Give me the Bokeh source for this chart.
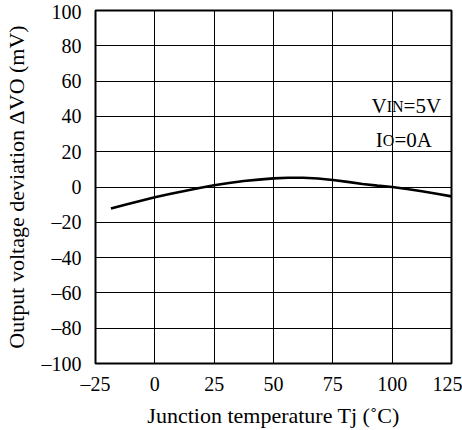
from bokeh.plotting import figure
from bokeh.models import Range1d, Label, FixedTicker, ColumnDataSource
from bokeh.embed import file_html
from bokeh.resources import INLINE

# ---- data ----
temp_c = [-18.5, -12.5, -6.25, 0, 6.25, 12.5, 18.75, 25, 31.25, 37.5, 43.75, 50,
          56.25, 62.5, 68.75, 75, 81.25, 87.5, 93.75, 100, 106.25, 112.5, 118.75, 125]
dv_mv = [-12.2, -10.0, -7.9, -5.8, -4.0, -2.3, -0.6, 1.0, 2.3, 3.4, 4.2, 4.9,
         5.2, 5.2, 4.8, 4.0, 2.9, 1.7, 0.8, 0.0, -1.1, -2.4, -3.8, -5.3]

x_ticks = [-25, 0, 25, 50, 75, 100, 125]
x_tick_labels = ["\u201325", "0", "25", "50", "75", "100", "125"]
y_ticks = [-100, -80, -60, -40, -20, 0, 20, 40, 60, 80, 100]
y_tick_labels = ["\u2013100", "\u201380", "\u201360", "\u201340", "\u201320", "0",
                 "20", "40", "60", "80", "100"]

x_label = "Junction temperature Tj (\u02daC)"
y_label = "Output voltage deviation \u0394VO (mV)"

FONT = "Liberation Serif"

p = figure(width=462, height=430, output_backend="svg", toolbar_location=None,
           x_range=Range1d(-25, 125), y_range=Range1d(-100, 100),
           min_border_left=94, min_border_right=11, min_border_top=10,
           min_border_bottom=66)

src = ColumnDataSource(data=dict(t=temp_c, v=dv_mv))
p.line("t", "v", source=src, line_color="black", line_width=2.6)

p.xaxis.ticker = FixedTicker(ticks=x_ticks)
p.yaxis.ticker = FixedTicker(ticks=y_ticks)
p.xaxis.major_label_overrides = dict(zip(x_ticks, x_tick_labels))
p.yaxis.major_label_overrides = dict(zip(y_ticks, y_tick_labels))
p.xaxis.minor_tick_line_color = None
p.yaxis.minor_tick_line_color = None

for ax in (p.xaxis[0], p.yaxis[0]):
    ax.axis_line_color = None
    ax.major_tick_out = 0
    ax.major_tick_in = 0
    ax.major_label_text_font = FONT
    ax.major_label_text_font_size = "20px"
    ax.major_label_text_color = "black"
    ax.axis_label_text_font = FONT
    ax.axis_label_text_font_size = "22px"
    ax.axis_label_text_font_style = "normal"
    ax.axis_label_text_color = "black"

p.xaxis.axis_label = x_label
p.yaxis.axis_label = y_label
p.xaxis.major_label_standoff = 9
p.xaxis.axis_label_standoff = 5
p.yaxis.major_label_standoff = 14
p.yaxis.axis_label_standoff = 10

p.xgrid.grid_line_color = "black"
p.ygrid.grid_line_color = "black"
p.xgrid.grid_line_width = 1
p.ygrid.grid_line_width = 1

p.outline_line_color = "black"
p.outline_line_width = 2
p.outline_line_alpha = 1

# ---- condition annotations (V_IN = 5V, I_O = 0A) ----
def piece(x, y, text, size, xoff):
    p.add_layout(Label(x=x, y=y, text=text, x_offset=xoff, text_font=FONT,
                       text_font_size=size, text_color="black",
                       text_baseline="alphabetic", text_align="left"))

piece(91.3, 45.8, "V", "21px", 0)
piece(91.3, 45.8, "IN", "16px", 15.2)
piece(91.3, 45.8, "=5V", "21px", 32.1)

piece(93.1, 26.6, "I", "21px", 0)
piece(93.1, 26.6, "O", "16px", 7.0)
piece(93.1, 26.6, "=0A", "21px", 18.6)

open("out.html", "w").write(file_html(p, INLINE))
